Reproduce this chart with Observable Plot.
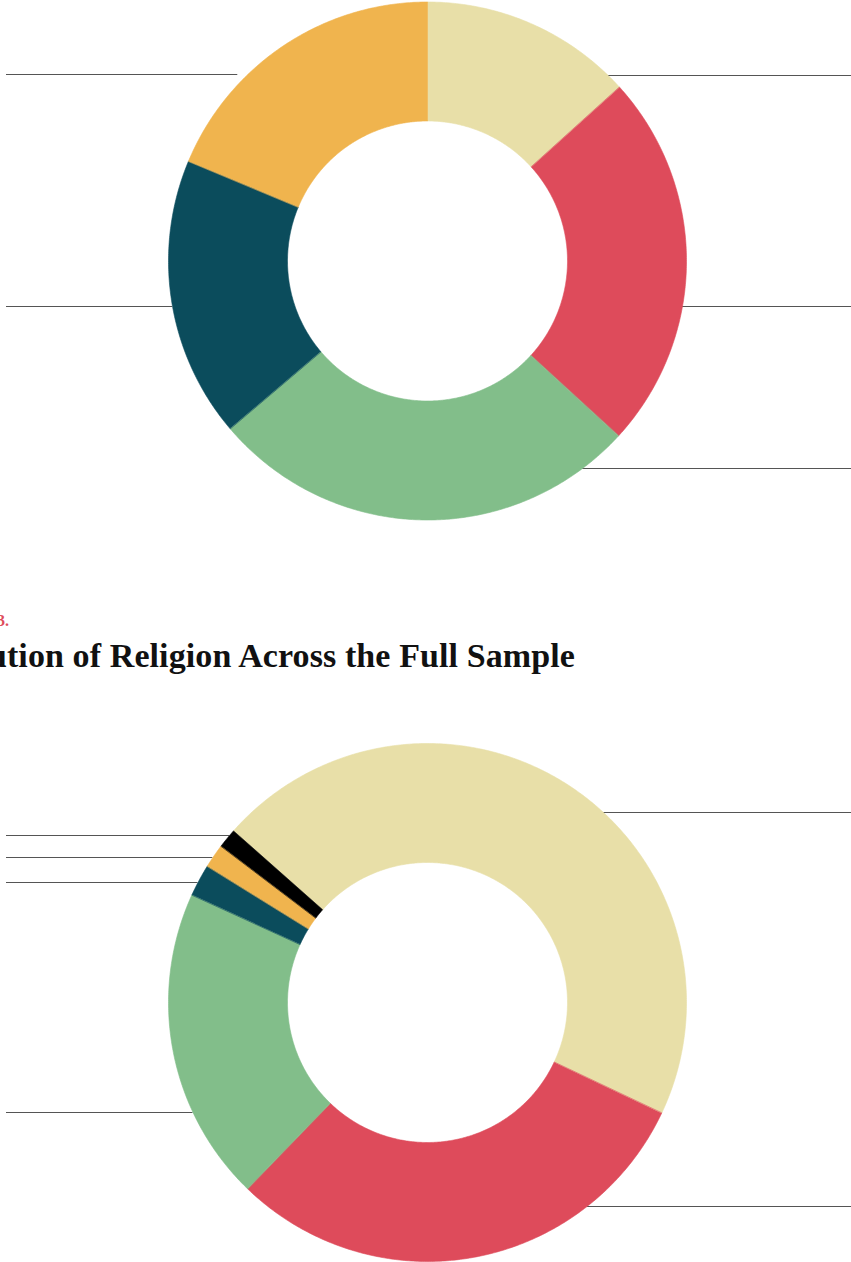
<!DOCTYPE html>
<html>
<head>
<meta charset="utf-8">
<script src="https://cdn.jsdelivr.net/npm/d3@7"></script>
<script src="https://cdn.jsdelivr.net/npm/@observablehq/plot@0.6"></script>
<style>
  html, body { margin: 0; padding: 0; background: #fff; }
  body { width: 851px; height: 1262px; overflow: hidden; position: relative; }
  .chart { position: absolute; left: 0; }
  #title {
    position: absolute; right: 276px; top: 639px;
    font-family: "Liberation Serif", "DejaVu Serif", serif; font-weight: bold;
    font-size: 34px; line-height: 34px; white-space: nowrap; color: #111;
    letter-spacing: 0.1px;
  }
  #figlabel {
    position: absolute; right: 842px; top: 613px;
    font-family: "Liberation Serif", "DejaVu Serif", serif; font-weight: bold;
    font-size: 16px; line-height: 16px; white-space: nowrap; color: #de4b5b;
  }
</style>
</head>
<body>
<div id="top" class="chart" style="top:0px"></div>
<div id="figlabel">Figure 3.</div>
<div id="title">Distribution of Religion Across the Full Sample</div>
<div id="bottom" class="chart" style="top:700px"></div>
<script>
// ---------- data ----------
const topCategories = ["Group 1", "Group 2", "Group 3", "Group 4", "Group 5"];
const topValues = [13.3, 23.5, 27.0, 17.5, 18.7];
const topColors = ["#e8dfa8", "#de4b5b", "#82be8a", "#0b4c5c", "#f0b44e"];

const religionCategories = ["Christianity", "Islam", "No religion", "Hinduism", "Buddhism", "Other"];
const religionValues = [45.5, 30.2, 19.6, 2.0, 1.5, 1.2];
const religionColors = ["#e8dfa8", "#de4b5b", "#82be8a", "#0b4c5c", "#f0b44e", "#000000"];

// ---------- layout ----------
const W = 851;
const R_OUT = 259, R_IN = 140;
const layoutTop = {height: 540, cx: 427, cy: 260.5, start: 0,
  leaders: [ // category index, side, y, gap from ring
    {i: 4, side: "left", y: 74, gap: 10},
    {i: 3, side: "left", y: 306, gap: 0},
    {i: 0, side: "right", y: 75, gap: 0},
    {i: 1, side: "right", y: 306, gap: 0},
    {i: 2, side: "right", y: 468, gap: 0}
  ]};
const layoutBottom = {height: 562, cx: 427, cy: 302, start: -48.5 * Math.PI / 180,
  leaders: [
    {i: 5, side: "left", y: 135, gap: 0},
    {i: 4, side: "left", y: 157, gap: 0},
    {i: 3, side: "left", y: 182, gap: 0},
    {i: 2, side: "left", y: 412, gap: 0},
    {i: 0, side: "right", y: 112, gap: 0},
    {i: 1, side: "right", y: 506, gap: 0}
  ]};

function donut(el, categories, values, colors, L) {
  const table = categories.map((c, k) => ({category: c, value: values[k], color: colors[k]}));
  const arcs = d3.pie().sort(null).value(d => d.value)
    .startAngle(L.start).endAngle(L.start + 2 * Math.PI)(table);
  const pts = [];
  const px = (r, a) => L.cx + r * Math.sin(a);
  const py = (r, a) => L.cy - r * Math.cos(a);
  arcs.forEach((a, k) => {
    const n = Math.max(4, Math.ceil((a.endAngle - a.startAngle) / (Math.PI / 360)));
    for (let j = 0; j <= n; j++) {
      const t = a.startAngle + (a.endAngle - a.startAngle) * j / n;
      pts.push({key: k, color: a.data.color, x: px(R_OUT, t), y: py(R_OUT, t)});
    }
    for (let j = n; j >= 0; j--) {
      const t = a.startAngle + (a.endAngle - a.startAngle) * j / n;
      pts.push({key: k, color: a.data.color, x: px(R_IN, t), y: py(R_IN, t)});
    }
  });
  const leaders = L.leaders.map(l => {
    const dy = l.y - L.cy;
    const edge = Math.sqrt(Math.max(0, R_OUT * R_OUT - dy * dy));
    return l.side === "left"
      ? {y: l.y, x1: 6, x2: L.cx - edge - l.gap}
      : {y: l.y, x1: L.cx + edge + l.gap, x2: W};
  });
  const chart = Plot.plot({
    width: W, height: L.height,
    margin: 0,
    x: {type: "linear", domain: [0, W], range: [0, W], axis: null},
    y: {type: "linear", domain: [0, L.height], range: [0, L.height], axis: null},
    color: {type: "identity"},
    style: {background: "transparent", overflow: "visible"},
    marks: [
      Plot.ruleY(leaders, {y: "y", x1: "x1", x2: "x2", stroke: "#555", strokeWidth: 1.2}),
      Plot.line(pts, {x: "x", y: "y", z: "key", fill: "color", stroke: "color",
        strokeWidth: 0.6, curve: "linear-closed"})
    ]
  });
  document.getElementById(el).appendChild(chart);
}

donut("top", topCategories, topValues, topColors, layoutTop);
donut("bottom", religionCategories, religionValues, religionColors, layoutBottom);
</script>
</body>
</html>
